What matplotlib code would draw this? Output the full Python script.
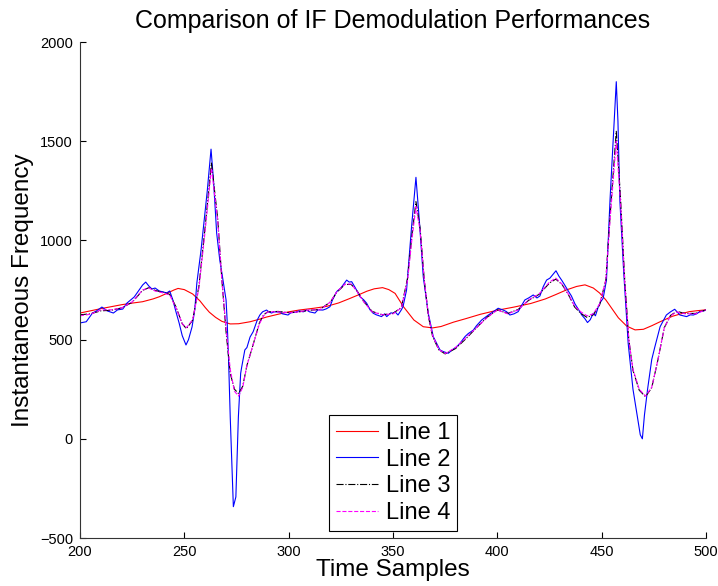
import matplotlib
matplotlib.use('Agg')
import matplotlib.pyplot as plt

plt.rcParams['font.family'] = ['Liberation Sans', 'DejaVu Sans']

# Line 1 (red, smooth reference)
x1 = [200, 205, 210, 214, 220, 225, 230, 235, 238, 242, 245, 247, 250, 254, 257.5, 260, 262, 265,
      268, 272, 276, 281.5, 285, 289.5, 295, 300, 305, 312, 318, 324, 329, 334, 337.5, 341, 345,
      348, 351, 355, 360, 364.5, 369, 373, 379, 385, 392, 400, 408, 416, 423, 428, 433, 438, 442,
      446, 449, 452, 455, 458, 462, 466, 470, 474, 478, 484, 488, 492, 496, 500]
y1 = [634, 645, 656, 664, 676, 684, 691, 705, 716, 735, 750, 758, 752, 730, 695, 662, 638, 612,
      592, 579, 580, 590, 600, 614, 628, 640, 649, 658, 667, 685, 706, 728, 744, 756, 762,
      752, 733, 666, 599, 565, 559, 566, 588, 606, 628, 648, 664, 682, 705, 727, 750, 768, 776,
      760, 735, 700, 655, 610, 568, 549, 552, 570, 590, 618, 630, 641, 646, 650]

# Line 2 (blue, raw estimate)
x2 = [200, 203, 206, 208, 210.5, 213, 216, 218, 220.5, 222.5, 226, 228, 230, 231.5, 233, 234.5,
      236, 238, 240, 241.5, 243, 244.5, 246, 247.5, 249, 250.8, 252, 253.7, 255, 256, 258, 260,
      261, 262.8, 264, 265.5, 267, 268, 270, 270.5, 271.2, 272, 273, 273.5, 274.7, 275.9, 277,
      277.5, 279, 280, 281.5, 283, 283.8, 285, 286.2, 287.5, 289.4, 290.5, 291.8, 293, 295.8,
      297, 299.7, 301, 303.8, 305, 307, 308.6, 310, 312.6, 314, 316.4, 318, 319.8, 321, 323,
      325, 327.8, 329, 330.2, 332, 334.2, 336, 337.4, 339, 340.5, 342, 344.5, 346, 347, 349,
      350.1, 351, 352.4, 354, 354.8, 356.5, 358, 358.9, 361, 362.6, 364.5, 366.9, 369.3, 372.5,
      374, 376.5, 378, 380.5, 382, 384.5, 386, 388.5, 390, 392.5, 395.7, 398, 400.4, 402.8,
      404.4, 406, 408, 410, 411.5, 413.2, 415, 417.2, 419, 420.4, 422, 423.6, 425.2, 428.1,
      429.5, 430.8, 432, 434, 435.5, 437.2, 439, 440.4, 442, 443.2, 444.5, 446, 447, 448.4,
      449.5, 450.7, 452.3, 454, 456, 457, 457.8, 458.7, 460.5, 462.7, 465, 467, 468.5, 469.5,
      470.5, 472, 474, 475.5, 478, 481, 483, 485, 487.5, 489, 490.7, 492.5, 493.9, 495.5, 497,
      499, 500]
y2 = [584, 590, 634, 645, 664, 645, 634, 650, 654, 684, 715, 745, 775, 790, 770, 755,
      760, 745, 740, 735, 745, 700, 640, 584, 520, 473, 500, 564, 650, 785, 950, 1150,
      1250, 1460, 1300, 1037, 900, 836, 700, 600, 400, 110, -200, -342, -293, 110, 330,
      362, 448, 460, 513, 540, 564, 600, 624, 640, 649, 640, 634, 640, 639,
      630, 624, 635, 639, 645, 640, 649, 640, 634, 650, 649, 655, 666, 700, 742,
      760, 800, 790, 792, 760, 716, 700, 683, 650, 633, 625, 616, 630, 616, 635,
      633, 640, 624, 650, 666, 750, 950, 1069, 1318, 1103, 817, 633, 515, 448,
      440, 431, 445, 464, 480, 515, 530, 548, 570, 599, 624, 640, 658, 649,
      641, 624, 630, 641, 670, 700, 710, 725, 710, 720, 767, 800, 810, 847,
      820, 800, 780, 745, 720, 680, 650, 625, 605, 586, 600, 633, 620, 666,
      690, 708, 800, 1204, 1600, 1800, 1600, 1204, 850, 481, 250, 120, 20, 0,
      120, 250, 400, 464, 565, 624, 640, 653, 624, 620, 616, 625, 624, 630, 641,
      645, 649]

# Line 3 (black dash-dot)
x3 = [200, 205, 210, 215, 220, 225, 230, 233, 236, 240, 243, 246, 249, 251, 254, 257, 260, 263,
      266, 268, 270, 272, 274, 276, 278, 280, 282, 284, 286, 288, 290, 295, 300, 305, 310, 315,
      320, 323, 327, 330, 333, 336, 340, 345, 350, 354, 357, 359, 361, 363, 365, 367, 369, 372,
      375, 380, 385, 390, 395, 400, 405, 410, 415, 420, 425, 428, 431, 434, 437, 440, 443, 446,
      449, 452, 454, 457, 459, 461, 463, 465, 468, 471, 474, 477, 480, 483, 486, 490, 495, 500]
y3 = [625, 630, 645, 648, 660, 688, 748, 762, 748, 738, 728, 665, 580, 555, 598, 770, 1070, 1390,
      1110, 800, 540, 330, 250, 228, 265, 370, 440, 512, 585, 625, 640, 642, 636, 640, 648, 652,
      690, 738, 778, 778, 742, 692, 642, 625, 632, 662, 810, 1020, 1195, 1060, 800, 615, 515, 448,
      428, 455, 505, 560, 612, 650, 632, 652, 698, 728, 785, 805, 778, 728, 665, 632, 612, 625,
      675, 800, 1120, 1550, 1220, 810, 500, 345, 245, 212, 258, 400, 560, 622, 642, 632, 632, 650]

# Line 4 (magenta dashed)
x4 = x3
y4 = [620, 628, 650, 650, 660, 690, 750, 760, 745, 735, 725, 660, 580, 560, 600, 760, 1050, 1365,
      1100, 800, 560, 350, 240, 215, 260, 370, 440, 510, 580, 620, 640, 640, 635, 640, 650, 650,
      690, 740, 780, 780, 740, 690, 640, 625, 630, 660, 800, 1000, 1170, 1050, 800, 620, 520, 450,
      430, 460, 510, 560, 610, 650, 630, 650, 700, 730, 790, 810, 780, 730, 670, 640, 620, 630,
      680, 800, 1100, 1500, 1200, 800, 500, 350, 250, 215, 260, 400, 560, 620, 640, 630, 630, 650]

fig = plt.figure(figsize=(7.18, 5.86), dpi=100)
ax = fig.add_axes([0.1114, 0.0819, 0.8719, 0.8464])

ax.plot(x1, y1, color='red', lw=0.8, label='Line 1')
ax.plot(x2, y2, color='blue', lw=0.8, label='Line 2')
ax.plot(x3, y3, color='black', lw=0.8, ls='-.', label='Line 3')
ax.plot(x4, y4, color='magenta', lw=0.8, ls='--', label='Line 4')

ax.set_xlim(200, 500)
ax.set_ylim(-500, 2000)
ax.set_xticks(range(200, 501, 50))
ax.set_yticks(range(-500, 2001, 500))
ax.tick_params(direction='in', length=4, width=0.8, labelsize=10.5, colors='black')
ax.tick_params(axis='x', pad=5)
ax.tick_params(axis='y', pad=5)
for s in ['top', 'right']:
    ax.spines[s].set_visible(False)
for s in ['left', 'bottom']:
    ax.spines[s].set_color('#333333')
    ax.spines[s].set_linewidth(0.8)

ax.set_title('Comparison of IF Demodulation Performances', fontsize=18, pad=10)
ax.set_xlabel('Time Samples', fontsize=17.5, labelpad=0)
ax.set_ylabel('Instantaneous Frequency', fontsize=17.5, labelpad=4)

leg = ax.legend(loc='lower center', bbox_to_anchor=(0.5, 0.014), borderaxespad=0,
                fontsize=17, handlelength=1.8, handletextpad=0.3, labelspacing=0.2,
                fancybox=False, framealpha=1, borderpad=0.3)
leg.get_frame().set_edgecolor('black')
leg.get_frame().set_linewidth(0.8)

fig.savefig('out.png', dpi=100)
